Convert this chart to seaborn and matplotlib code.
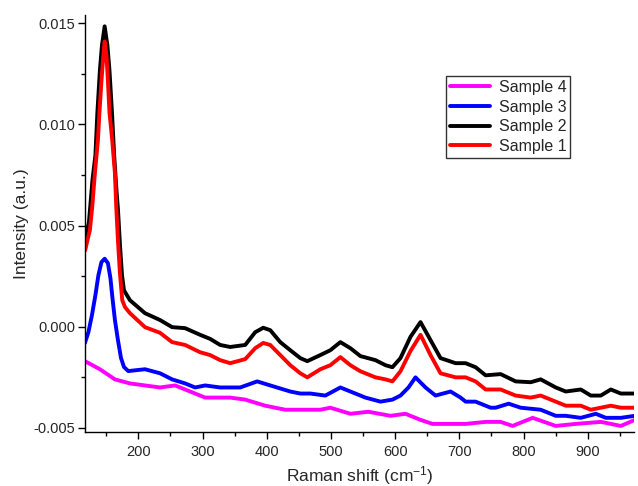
import matplotlib
matplotlib.use("Agg")
import matplotlib.pyplot as plt
import seaborn as sns
import pandas as pd
from matplotlib.ticker import MultipleLocator, FormatStrFormatter

# ---- data ----
x_s2 = [117.9, 123.1, 125.4, 128.6, 133.2, 136.3, 140.2, 143.4, 147.6, 151.9, 155.1, 159.0,
        162.4, 166.0, 168.4, 171.5, 174.6, 177.7,
        187.0, 210.4, 233.9, 252.6, 272.9, 296.3, 311.9, 327.5, 343.1, 366.5, 382.1, 394.6,
        405.5, 421.1, 436.7, 452.3, 463.2, 483.5, 499.1, 514.7, 530.3, 545.9, 569.3, 584.9,
        595.8, 608.3, 623.9, 639.5, 655.1, 670.7, 694.1, 709.7, 725.3, 740.9, 764.3, 787.7,
        811.1, 826.7, 850.1, 865.7, 889.1, 904.7, 920.3, 935.9, 951.5, 973.4]
y_s2 = [0.00442, 0.00516, 0.00602, 0.00724, 0.00847, 0.01059, 0.01267, 0.01390, 0.01484,
        0.01390, 0.01267, 0.01059, 0.00847, 0.00674, 0.00576, 0.00403, 0.00255, 0.0018,
        0.00131, 0.00067, 0.00033, -0.00002, -0.00007, -0.0004,
        -0.0006, -0.0009, -0.001, -0.0009, -0.00027, -0.00005, -0.00017, -0.00076, -0.00116,
        -0.00155, -0.0017, -0.0014, -0.00116, -0.00076, -0.00106, -0.00145, -0.00165, -0.0019,
        -0.002, -0.00155, -0.0005, 0.00023, -0.00066, -0.00155, -0.0018, -0.0018, -0.002,
        -0.0024, -0.00234, -0.0027, -0.00274, -0.0026, -0.003, -0.0032, -0.0031, -0.0034,
        -0.0034, -0.0031, -0.0033, -0.0033]

x_s1 = [117.3, 121.5, 124.6, 128.2, 132.4, 137.1, 139.5, 142.6, 145.0, 147.6, 150.4, 152.7,
        155.1, 159.4, 161.3, 163.6, 165.7, 168.3, 171.4, 175.0, 179.3,
        187.0, 210.4, 233.9, 252.6, 272.9, 296.3, 311.9, 327.5, 343.1, 366.5, 382.1, 394.6,
        405.5, 421.1, 436.7, 452.3, 463.2, 483.5, 499.1, 514.7, 530.3, 545.9, 569.3, 584.9,
        595.8, 608.3, 623.9, 639.5, 655.1, 670.7, 694.1, 709.7, 725.3, 740.9, 764.3, 787.7,
        811.1, 826.7, 850.1, 865.7, 889.1, 904.7, 920.3, 935.9, 951.5, 973.4]
y_s1 = [0.00378, 0.00437, 0.00477, 0.00590, 0.00758, 0.00921, 0.01059, 0.01214, 0.01316,
        0.01409, 0.01341, 0.01214, 0.01059, 0.00921, 0.00847, 0.00758, 0.00590, 0.00427,
        0.00264, 0.00131, 0.00097,
        0.00067, -0.00002, -0.0003, -0.00076, -0.0009, -0.00126,
        -0.0014, -0.00165, -0.0018, -0.0016, -0.00106, -0.0008, -0.0009, -0.0014, -0.0019,
        -0.0023, -0.0025, -0.0021, -0.0019, -0.0015, -0.0019, -0.0022, -0.0025, -0.0026,
        -0.0027, -0.0022, -0.0012, -0.0004, -0.0014, -0.0023, -0.0025, -0.0025, -0.0027,
        -0.0031, -0.0031, -0.0034, -0.0035, -0.0034, -0.0037, -0.0039, -0.0039, -0.0041,
        -0.004, -0.0039, -0.004, -0.004]

x_s3 = [116.8, 122.3, 127.8, 133.2, 137.9, 142.6, 147.6, 152.7, 156.6, 159.8, 163.6, 168.3,
        173.0, 177.7, 184.4, 210.4, 233.9,
        252.6, 272.9, 288.5, 304.1, 327.5, 343.1, 358.7, 385.2, 405.5, 436.7, 452.3, 467.9,
        491.3, 514.7, 538.1, 553.7, 577.1, 595.8, 608.3, 620.8, 631.7, 647.3, 662.9, 686.3,
        701.9, 709.7, 725.3, 748.7, 756.5, 776.8, 795.5, 826.7, 850.1, 865.7, 889.1, 912.5,
        928.1, 951.5, 973.4]
y_s3 = [-0.00081, -0.00027, 0.00057, 0.00156, 0.00255, 0.00319, 0.00336, 0.00314, 0.0024,
        0.00141, 0.00033, -0.00066, -0.00154, -0.00199, -0.00219, -0.0021, -0.0023,
        -0.0026, -0.0028, -0.003, -0.0029, -0.003, -0.003, -0.003,
        -0.0027, -0.0029, -0.0032, -0.0033, -0.0033, -0.0034, -0.003, -0.0033, -0.0035,
        -0.0037, -0.0036, -0.0034, -0.003, -0.0025, -0.003, -0.0034, -0.0032, -0.0035,
        -0.0037, -0.0037, -0.004, -0.004, -0.0038, -0.004, -0.0041, -0.0044, -0.0044,
        -0.0045, -0.0043, -0.0045, -0.0045, -0.0044]

x_s4 = [117, 140.2, 163.6, 187.0, 210.4, 233.9, 257.3, 280.7, 304.1, 343.1, 366.5, 397.7,
        428.9, 452.3, 483.5, 499.1, 530.3, 558.4, 592.7, 616.1, 639.5, 658.2, 686.3, 709.7,
        740.9, 764.3, 783.0, 814.2, 850.1, 881.3, 920.3, 951.5, 973.4]
y_s4 = [-0.0017, -0.0021, -0.0026, -0.0028, -0.0029, -0.003, -0.0029, -0.0032, -0.0035,
        -0.0035, -0.0036, -0.0039, -0.0041, -0.0041, -0.0041, -0.004, -0.0043, -0.0042,
        -0.0044, -0.0043, -0.0046, -0.0048, -0.0048, -0.0048, -0.0047, -0.0047, -0.0049,
        -0.0045, -0.0049, -0.0048, -0.0047, -0.0049, -0.0046]

series = [("Sample 2", x_s2, y_s2, "#000000"),
          ("Sample 1", x_s1, y_s1, "#FF0000"),
          ("Sample 3", x_s3, y_s3, "#0000FF"),
          ("Sample 4", x_s4, y_s4, "#FF00FF")]
legend_order = ["Sample 4", "Sample 3", "Sample 2", "Sample 1"]

# ---- style ----
sns.set_style("ticks")
plt.rcParams["font.family"] = ["Liberation Sans", "DejaVu Sans"]
plt.rcParams["font.size"] = 10.5
plt.rcParams["mathtext.fontset"] = "custom"
plt.rcParams["mathtext.rm"] = "Liberation Sans"
plt.rcParams["mathtext.it"] = "Liberation Sans:italic"
plt.rcParams["mathtext.default"] = "regular"

fig = plt.figure(figsize=(6.38, 4.86), dpi=100)
ax = fig.add_axes([85 / 638, 54 / 486, 549 / 638, 417 / 486])

for name, xs, ys, col in series:
    df = pd.DataFrame({"x": xs, "y": ys})
    sns.lineplot(data=df, x="x", y="y", ax=ax, color=col, linewidth=2.8,
                 label=name, sort=False, estimator=None)

ax.set_xlim(117, 972)
ax.set_ylim(-0.0052, 0.0154)
ax.xaxis.set_major_locator(MultipleLocator(100))
ax.xaxis.set_minor_locator(MultipleLocator(50))
ax.yaxis.set_major_locator(MultipleLocator(0.005))
ax.yaxis.set_minor_locator(MultipleLocator(0.0025))
ax.yaxis.set_major_formatter(FormatStrFormatter("%.3f"))

ax.tick_params(which="major", length=5, width=1, color="black", labelsize=10.5, pad=2)
ax.tick_params(which="minor", length=3, width=1, color="black")
ax.tick_params(axis="x", pad=4)
for s in ["top", "right"]:
    ax.spines[s].set_visible(False)
for s in ["left", "bottom"]:
    ax.spines[s].set_color("black")
    ax.spines[s].set_linewidth(1.0)

ax.set_xlabel("Raman shift (cm$^{-1}$)", fontsize=12.5, labelpad=4)
ax.set_ylabel("Intensity (a.u.)", fontsize=12.5, labelpad=3)

handles, labels = ax.get_legend_handles_labels()
hmap = dict(zip(labels, handles))
leg = ax.legend([hmap[l] for l in legend_order], legend_order,
                loc="upper left", bbox_to_anchor=(0.6576, 0.8537), borderaxespad=0,
                frameon=True, fancybox=False, shadow=False, handlelength=2.5,
                handletextpad=0.55, labelspacing=0.29, borderpad=0.25, fontsize=11.5)
leg.get_frame().set_edgecolor("black")
leg.get_frame().set_linewidth(1.0)

fig.savefig("out.png", dpi=100)
